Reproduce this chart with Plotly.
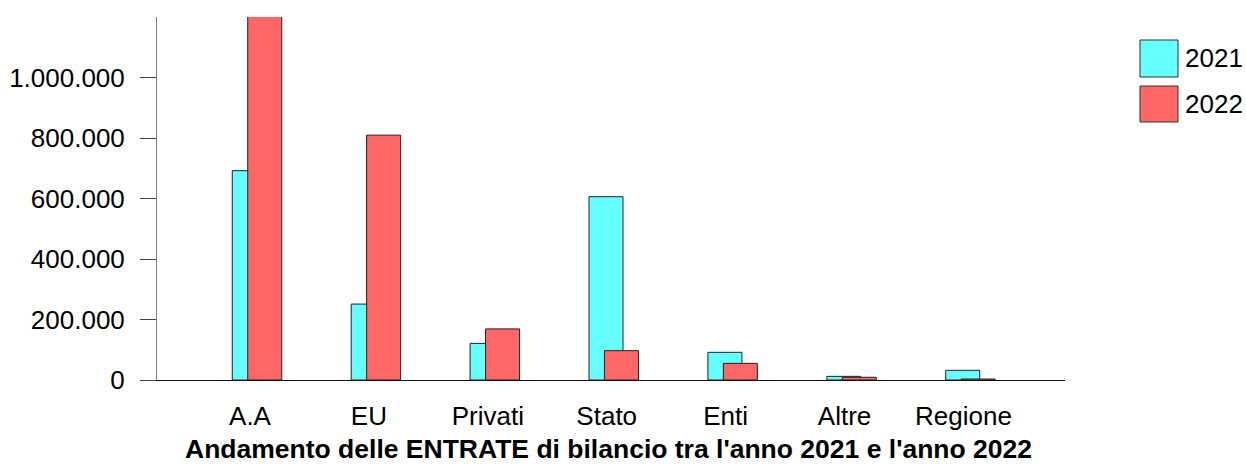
import plotly.graph_objects as go

categories = ["A.A", "EU", "Privati", "Stato", "Enti", "Altre", "Regione"]
values_2021 = [692000, 251000, 121000, 606000, 91500, 12000, 32000]
values_2022 = [1205000, 809500, 169000, 97000, 55000, 9000, 3300]
series_names = ["2021", "2022"]
series_colors = ["#66FFFF", "#FF6666"]
y_tickvals = [0, 200000, 400000, 600000, 800000, 1000000]
title_text = "Andamento delle ENTRATE di bilancio tra l'anno 2021 e l'anno 2022"

W, H = 1246, 466
L, R, T, B = 157, 1065, 17, 380
FONT = "Liberation Sans, Arial, sans-serif"
FS = 26

def px(x):
    return (x - L) / (R - L)

def py(y):
    return (B - y) / (B - T)

fig = go.Figure()
offsets = [-0.149, -0.019]
for name, vals, col, off in zip(series_names, [values_2021, values_2022], series_colors, offsets):
    fig.add_trace(go.Bar(
        x=categories, y=vals, name=name,
        marker=dict(color=col, line=dict(color="#222222", width=1)),
        width=0.286, offset=off, showlegend=False, cliponaxis=False,
    ))

fig.update_layout(
    width=W, height=H, autosize=False,
    margin=dict(l=L, r=W - R, t=T, b=H - B, pad=0),
    plot_bgcolor="white", paper_bgcolor="white",
    barmode="overlay",
    separators=",.",
    font=dict(family=FONT, size=FS, color="black"),
    xaxis=dict(
        type="category", range=[-0.782, 6.854], automargin=False,
        showline=True, linecolor="#111111", linewidth=1,
        ticks="", showgrid=False, zeroline=False,
        tickfont=dict(size=FS, color="black"),
        ticklabelstandoff=13,
    ),
    yaxis=dict(
        range=[0, 1200000], tickvals=y_tickvals, tickformat=",d", automargin=False,
        showline=True, linecolor="#808080", linewidth=1,
        ticks="outside", ticklen=16, tickcolor="#444444", tickwidth=1,
        showgrid=False, zeroline=False,
        tickfont=dict(size=FS, color="black"),
        ticklabelstandoff=10,
    ),
)

# title
fig.add_annotation(
    text="<b>" + title_text + "</b>", xref="paper", yref="paper",
    x=px(608), y=py(449), xanchor="center", yanchor="middle",
    showarrow=False, font=dict(size=26.5, color="black", family=FONT),
)

# legend (manual, large swatches)
leg_boxes = [(40, 77), (86, 122)]
for (y0, y1), name, col in zip(leg_boxes, series_names, series_colors):
    fig.add_shape(type="rect", xref="paper", yref="paper",
                  x0=px(1140), x1=px(1178), y0=py(y1), y1=py(y0),
                  fillcolor=col, line=dict(color="#333333", width=1))
    fig.add_annotation(text=name, xref="paper", yref="paper",
                       x=px(1183), y=py((y0 + y1) / 2), xanchor="left", yanchor="middle",
                       showarrow=False, font=dict(size=FS, color="black", family=FONT))

fig.write_html("out.html", config={"displayModeBar": False},
               post_script="document.body.style.margin='0';document.body.style.padding='0';")
